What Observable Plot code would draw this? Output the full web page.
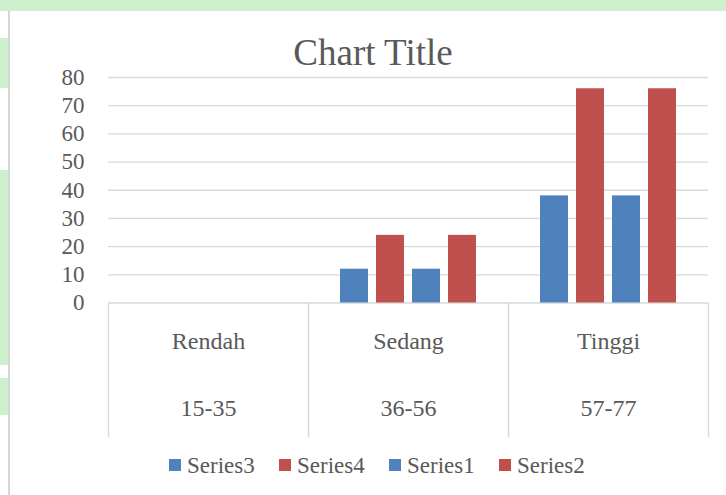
<!DOCTYPE html>
<html>
<head>
<meta charset="utf-8">
<script src="https://cdn.jsdelivr.net/npm/d3@7"></script>
<script src="https://cdn.jsdelivr.net/npm/@observablehq/plot@0.6"></script>
<style>
  html, body { margin: 0; padding: 0; }
  body { width: 726px; height: 495px; position: relative; overflow: hidden; background: #ffffff; font-family: "Liberation Serif", Tinos, "Times New Roman", Times, "Nimbus Roman", "DejaVu Serif", serif; }
  .bg { position: absolute; background: #cdf0cd; }
  #panel { position: absolute; left: 8px; top: 10px; width: 730px; height: 490px; background: #fff; border-left: 2px solid #d6d6d6; border-top: 1px solid #e2e2e2; }
  #title { position: absolute; left: 0; top: 34px; width: 746px; text-align: center; font-size: 37px; line-height: 37px; color: #595959; }
  #chart { position: absolute; left: 0; top: 70px; }
  #legend { position: absolute; left: 169px; top: 454px; display: flex; font-size: 23px; line-height: 23px; color: #595959; }
  #legend .item { width: 110px; display: flex; align-items: flex-start; }
  #legend .sw { width: 12px; height: 12px; margin-top: 5px; margin-right: 6px; flex: none; }
</style>
</head>
<body>
<div class="bg" style="left:0;top:0;width:726px;height:11px;"></div>
<div class="bg" style="left:0;top:38px;width:9px;height:50px;"></div>
<div class="bg" style="left:0;top:170px;width:9px;height:195px;"></div>
<div class="bg" style="left:0;top:378px;width:9px;height:37px;"></div>
<div id="panel"></div>
<div id="title">Chart Title</div>
<div id="chart"></div>
<div id="legend"></div>
<script>
// ---- data ----
const categories = ["Rendah", "Sedang", "Tinggi"];
const ranges = ["15-35", "36-56", "57-77"];
const seriesNames = ["Series3", "Series4", "Series1", "Series2"];
const series3 = [0, 12, 38];
const series4 = [0, 24, 76];
const series1 = [0, 12, 38];
const series2 = [0, 24, 76];
const yTicks = [0, 10, 20, 30, 40, 50, 60, 70, 80];
const colors = ["#4f81bd", "#c0504d", "#4f81bd", "#c0504d"];

const seriesValues = {Series3: series3, Series4: series4, Series1: series1, Series2: series2};
const rows = [];
categories.forEach((c, i) => {
  seriesNames.forEach(s => rows.push({category: c, series: s, value: seriesValues[s][i]}));
});
const rangeOf = Object.fromEntries(categories.map((c, i) => [c, ranges[i]]));

const plotTop = 7, plotBottom = 142.5, boxDepth = 133.5;
const plotHeight = 375 - plotTop - plotBottom;
const serifStack = "'Liberation Serif', Tinos, 'Times New Roman', Times, 'Nimbus Roman', 'DejaVu Serif', serif";

const chart = Plot.plot({
  width: 726,
  height: 375,
  marginLeft: 107,
  marginRight: 18,
  marginTop: plotTop,
  marginBottom: plotBottom,
  style: {fontFamily: serifStack, color: "#595959", background: "transparent", overflow: "visible"},
  fx: {domain: categories, padding: 0, label: null},
  x: {domain: seriesNames, paddingInner: 0.22, paddingOuter: 0.85, axis: null},
  y: {domain: [0, 80], label: null},
  color: {domain: seriesNames, range: colors},
  marks: [
    Plot.gridY(yTicks, {stroke: "#d9d9d9", strokeOpacity: 1, strokeWidth: 1.3}),
    Plot.frame({anchor: "left", stroke: "#d9d9d9", strokeWidth: 1.3, insetTop: plotHeight, insetBottom: -boxDepth}),
    Plot.frame({anchor: "right", stroke: "#d9d9d9", strokeWidth: 1.3, insetTop: plotHeight, insetBottom: -boxDepth}),
    Plot.barY(rows, {fx: "category", x: "series", y: "value", fill: "series"}),
    Plot.axisY({ticks: yTicks, tickSize: 0, tickPadding: 24, fontSize: 23, fontFamily: serifStack, label: null}),
    Plot.axisFx({anchor: "bottom", tickSize: 0, tickPadding: 28.5, fontSize: 24, fontFamily: serifStack, label: null}),
    Plot.axisFx({anchor: "bottom", tickSize: 0, tickPadding: 95.5, fontSize: 24, fontFamily: serifStack, label: null, tickFormat: d => rangeOf[d]})
  ]
});
document.getElementById("chart").appendChild(chart);

const legend = document.getElementById("legend");
seriesNames.forEach((s, i) => {
  const item = document.createElement("div");
  item.className = "item";
  const sw = document.createElement("span");
  sw.className = "sw";
  sw.style.background = colors[i];
  const t = document.createElement("span");
  t.textContent = s;
  item.appendChild(sw);
  item.appendChild(t);
  legend.appendChild(item);
});
</script>
</body>
</html>
